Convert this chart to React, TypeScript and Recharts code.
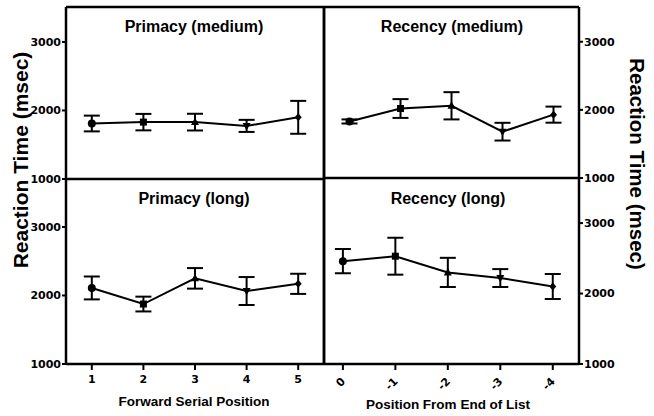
import React from "react";
import {
  LineChart,
  Line,
  XAxis,
  YAxis,
  ErrorBar,
  ReferenceLine,
} from "recharts";

const W = 654;
const H = 416;
const FONT = '"Liberation Sans", Arial, sans-serif';
const TICK_FONT = '"DejaVu Sans", sans-serif';

// x positions
const primacyPositions = [1, 2, 3, 4, 5];
const recencyPositions = [0, -1, -2, -3, -4];
const yTicks = [1000, 2000, 3000];

// mean reaction times (msec) and error bars
const primacyMediumRT = [1810, 1830, 1830, 1775, 1900];
const primacyMediumErr = [115, 120, 122, 88, 240];
const recencyMediumRT = [1830, 2020, 2060, 1680, 1930];
const recencyMediumErr = [30, 138, 200, 130, 118];
const primacyLongRT = [2110, 1875, 2250, 2065, 2170];
const primacyLongErr = [167, 108, 150, 204, 147];
const recencyLongRT = [2460, 2530, 2300, 2220, 2100];
const recencyLongErr = [172, 262, 207, 127, 177];

const toRows = (xs: number[], rt: number[], err: number[]) =>
  xs.map((x, i) => ({ x, rt: rt[i], err: err[i] }));

// GraphPad style markers: circle, square, triangle, inverted triangle, diamond
const Marker = ({ cx, cy, index }: any) => {
  if (cx == null || cy == null) return null;
  const k = index % 5;
  if (k === 0) return <circle cx={cx} cy={cy} r={4} fill="#000" />;
  if (k === 1) return <rect x={cx - 3.5} y={cy - 3.5} width={7} height={7} fill="#000" />;
  if (k === 2)
    return <polygon points={`${cx},${cy - 4.5} ${cx + 4},${cy + 3} ${cx - 4},${cy + 3}`} fill="#000" />;
  if (k === 3)
    return <polygon points={`${cx},${cy + 4.5} ${cx + 4},${cy - 3} ${cx - 4},${cy - 3}`} fill="#000" />;
  return <polygon points={`${cx},${cy - 4} ${cx + 3.5},${cy} ${cx},${cy + 4} ${cx - 3.5},${cy}`} fill="#000" />;
};

const RotatedTick = ({ x, y, payload }: any) => (
  <g transform={`translate(${x + 3},${y + 7})`}>
    <text
      transform="rotate(-45)"
      textAnchor="end"
      fontFamily={TICK_FONT}
      fontWeight="bold"
      fontSize={11}
      fill="#000"
    >
      {String(payload.value)}
    </text>
  </g>
);

const axisLine = { stroke: "#000", strokeWidth: 2.5 };
const tickLine = { stroke: "#000", strokeWidth: 2 };
const tickStyle = { fontFamily: TICK_FONT, fontWeight: "bold", fontSize: 11, fill: "#000" };

type PanelProps = {
  rows: { x: number; rt: number; err: number }[];
  positions: number[];
  xDomain: [number, number];
  yDomain: [number, number];
  reversed?: boolean;
  side: "left" | "right";
  margin: { top: number; right: number; bottom: number; left: number };
  xHeight: number;
  xLabels?: "plain" | "rotated";
  topBorder?: boolean;
  sideBorderX: number;
};

function Panel(p: PanelProps) {
  return (
    <div style={{ position: "absolute", left: 0, top: 0 }}>
      <LineChart width={W} height={H} data={p.rows} margin={p.margin}>
        <XAxis
          type="number"
          dataKey="x"
          domain={p.xDomain}
          ticks={p.positions}
          reversed={p.reversed}
          allowDataOverflow
          interval={0}
          height={p.xHeight}
          axisLine={axisLine}
          tickLine={tickLine}
          tickSize={6}
          tickMargin={5}
          tick={
            p.xLabels === "rotated" ? <RotatedTick /> : p.xLabels === "plain" ? tickStyle : false
          }
        />
        <YAxis
          type="number"
          orientation={p.side}
          domain={p.yDomain}
          ticks={yTicks}
          allowDataOverflow
          width={40}
          axisLine={axisLine}
          tickLine={tickLine}
          tickSize={4}
          tickMargin={1}
          tick={tickStyle}
        />
        {p.topBorder && <ReferenceLine y={p.yDomain[1]} stroke="#000" strokeWidth={2.5} />}
        <ReferenceLine x={p.sideBorderX} stroke="#000" strokeWidth={2.5} />
        <Line
          dataKey="rt"
          stroke="#000"
          strokeWidth={2}
          dot={(d: any) => <Marker key={`m${d.index}`} {...d} />}
          isAnimationActive={false}
        >
          <ErrorBar dataKey="err" width={8} stroke="#000" strokeWidth={2} isAnimationActive={false} />
        </Line>
      </LineChart>
    </div>
  );
}

export default function App() {
  return (
    <div style={{ position: "absolute", left: 0, top: 0, width: W, height: H, background: "#fff" }}>
      <Panel
        rows={toRows(primacyPositions, primacyMediumRT, primacyMediumErr)}
        positions={primacyPositions}
        xDomain={[0.5, 5.5]}
        yDomain={[1000, 3510]}
        side="left"
        margin={{ top: 7, right: W - 324, bottom: H - 179 - 20, left: 26 }}
        xHeight={20}
        topBorder
        sideBorderX={5.5}
      />
      <Panel
        rows={toRows(primacyPositions, primacyLongRT, primacyLongErr)}
        positions={primacyPositions}
        xDomain={[0.5, 5.5]}
        yDomain={[1000, 3700]}
        side="left"
        margin={{ top: 179, right: W - 324, bottom: H - 364 - 30, left: 26 }}
        xHeight={30}
        xLabels="plain"
        sideBorderX={5.5}
      />
      <Panel
        rows={toRows(recencyPositions, recencyMediumRT, recencyMediumErr)}
        positions={recencyPositions}
        xDomain={[-4.5, 0.5]}
        reversed
        yDomain={[1000, 3510]}
        side="right"
        margin={{ top: 7, right: W - 579 - 40, bottom: H - 178 - 20, left: 324 }}
        xHeight={20}
        topBorder
        sideBorderX={0.5}
      />
      <Panel
        rows={toRows(recencyPositions, recencyLongRT, recencyLongErr)}
        positions={recencyPositions}
        xDomain={[-4.5, 0.36]}
        reversed
        yDomain={[1000, 3640]}
        side="right"
        margin={{ top: 178, right: W - 579 - 40, bottom: H - 364 - 30, left: 324 }}
        xHeight={30}
        xLabels="rotated"
        sideBorderX={0.36}
      />
      <svg
        width={W}
        height={H}
        style={{ position: "absolute", left: 0, top: 0, pointerEvents: "none" }}
        fontFamily={FONT}
        fontWeight="bold"
      >
        <g fontSize={16} textAnchor="middle" dominantBaseline="central">
          <text x={194} y={26}>Primacy (medium)</text>
          <text x={452} y={26}>Recency (medium)</text>
          <text x={194} y={198}>Primacy (long)</text>
          <text x={448} y={198}>Recency (long)</text>
        </g>
        <g fontSize={13.5} textAnchor="middle" dominantBaseline="central">
          <text x={194} y={401}>Forward Serial Position</text>
          <text x={448} y={404}>Position From End of List</text>
        </g>
        <text
          x={20}
          y={160}
          fontSize={21}
          textAnchor="middle"
          dominantBaseline="central"
          transform="rotate(-90 20 160)"
        >
          Reaction Time (msec)
        </text>
        <text
          x={637}
          y={164}
          fontSize={20.5}
          textAnchor="middle"
          dominantBaseline="central"
          transform="rotate(90 637 164)"
        >
          Reaction Time (msec)
        </text>
      </svg>
    </div>
  );
}
